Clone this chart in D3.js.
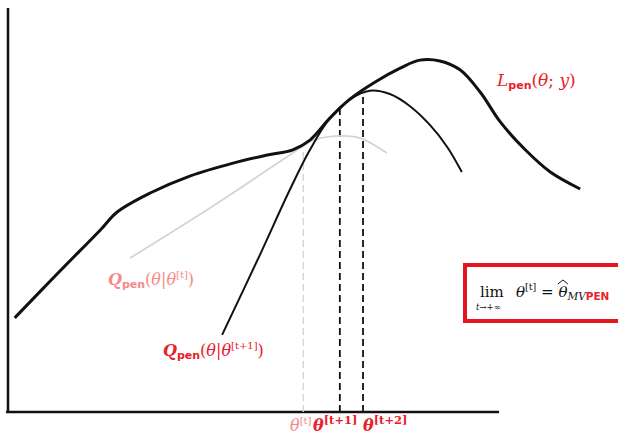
<!DOCTYPE html>
<html>
<head>
<meta charset="utf-8">
<script src="https://cdn.jsdelivr.net/npm/d3@7"></script>
<style>
  body { margin: 0; background: #fff; }
  svg { display: block; }
  text { font-family: "DejaVu Serif", "Liberation Serif", serif; }
</style>
</head>
<body>
<svg id="chart" width="618" height="434"></svg>
<script>
    const width = 618;
    const height = 434;

    // curve samples, theta on [0,100], value on [0,100]
    const likeTheta = [1.1, 8.2, 15.1, 17.9, 23.3, 29.8, 36.9, 42.5, 46.7, 49.5, 52.8, 56.1, 60.2, 64.3, 67.5, 70.8, 74.1, 77.4, 80.7, 84.8, 88.9, 93.8];
    const likeValue = [23.3, 34.4, 45.0, 49.5, 54.2, 58.4, 61.6, 63.6, 64.9, 67.3, 72.8, 77.5, 81.7, 85.1, 87.1, 86.9, 84.7, 79.2, 71.8, 64.9, 59.4, 55.2];

    const qtTheta = [20.0, 33.1, 46.2, 49.8, 53.6, 57.7, 62.1];
    const qtValue = [38.1, 50.5, 63.6, 67.1, 68.3, 67.8, 64.1];

    const qt1Theta = [35.1, 41.3, 46.2, 49.5, 52.8, 56.1, 59.3, 62.6, 65.9, 69.2, 72.0, 74.4];
    const qt1Value = [19.1, 38.9, 55.0, 64.9, 72.8, 77.4, 79.5, 78.7, 75.7, 71.0, 65.6, 59.4];

    // iterates theta[t], theta[t+1], theta[t+2]
    const iterTheta = [48.4, 54.4, 58.2];
    const iterTop = [64.9, 75.2, 79.2];
    const iterSup = ["[t]", "[t+1]", "[t+2]"];

    const red = "#e8202a";
    const pink = "#f58a8a";

    const svg = d3.select("#chart");

    const x = d3.scaleLinear().domain([0, 100]).range([8, 618]);
    const y = d3.scaleLinear().domain([0, 100]).range([412, 8]);

    const line = d3.line()
        .x(d => x(d[0]))
        .y(d => y(d[1]))
        .curve(d3.curveCatmullRom.alpha(0.5));

    // axes (plain lines, no ticks)
    svg.append("line")
        .attr("x1", x(0)).attr("x2", x(0))
        .attr("y1", y(100)).attr("y2", y(0) + 1)
        .attr("stroke", "#111").attr("stroke-width", 2.5);
    svg.append("line")
        .attr("x1", x(0) - 2).attr("x2", x(80.5))
        .attr("y1", y(0)).attr("y2", y(0))
        .attr("stroke", "#111").attr("stroke-width", 2.5);

    // dashed iterate lines
    svg.selectAll("line.iter")
        .data(iterTheta)
        .join("line")
        .attr("class", "iter")
        .attr("x1", d => x(d)).attr("x2", d => x(d))
        .attr("y1", y(0)).attr("y2", (d, i) => y(iterTop[i]))
        .attr("stroke", (d, i) => i == 0 ? "#d2d2d2" : "#111")
        .attr("stroke-width", (d, i) => i == 0 ? 1.3 : 1.8)
        .attr("stroke-dasharray", "7,4");

    // surrogate at theta[t]
    svg.append("path")
        .attr("d", line(d3.zip(qtTheta, qtValue)))
        .attr("fill", "none")
        .attr("stroke", "#d4d4d4")
        .attr("stroke-width", 1.8);

    // surrogate at theta[t+1]
    svg.append("path")
        .attr("d", line(d3.zip(qt1Theta, qt1Value)))
        .attr("fill", "none")
        .attr("stroke", "#111")
        .attr("stroke-width", 2);

    // penalised likelihood
    svg.append("path")
        .attr("d", line(d3.zip(likeTheta, likeValue)))
        .attr("fill", "none")
        .attr("stroke", "#111")
        .attr("stroke-width", 3);

    // helper for a math-ish label
    function qLabel(g, sup, color) {
        const t = g.append("text").attr("fill", color).attr("font-size", 16);
        t.append("tspan").text("Q").attr("font-weight", "bold").attr("font-style", "italic");
        t.append("tspan").text("pen").attr("font-family", "DejaVu Sans, sans-serif").attr("font-weight", "bold")
            .attr("font-size", 11).attr("dy", 3);
        t.append("tspan").text("(").attr("dy", -3);
        t.append("tspan").text("θ").attr("font-style", "italic");
        t.append("tspan").text("|");
        t.append("tspan").text("θ").attr("font-style", "italic");
        t.append("tspan").text(sup).attr("font-size", 10).attr("dy", -7);
        t.append("tspan").text(")").attr("dy", 7);
        return t;
    }

    qLabel(svg.append("g").attr("transform", "translate(108,285)"), "[t]", pink);
    qLabel(svg.append("g").attr("transform", "translate(163,356)"), "[t+1]", red);

    // likelihood label
    const lt = svg.append("text").attr("x", 497).attr("y", 86).attr("fill", red).attr("font-size", 17);
    lt.append("tspan").text("L").attr("font-style", "italic");
    lt.append("tspan").text("pen").attr("font-family", "DejaVu Sans, sans-serif").attr("font-weight", "bold")
        .attr("font-size", 11).attr("dy", 3);
    lt.append("tspan").text("(").attr("dy", -3);
    lt.append("tspan").text("θ").attr("font-style", "italic");
    lt.append("tspan").text("; ");
    lt.append("tspan").text("y").attr("font-style", "italic");
    lt.append("tspan").text(")");

    // iterate labels under the axis
    const labX = [290, 313, 363];
    iterSup.forEach((s, i) => {
        const t = svg.append("text")
            .attr("x", labX[i]).attr("y", 431)
            .attr("fill", i == 0 ? pink : red)
            .attr("font-size", 16)
            .attr("font-weight", i == 0 ? "normal" : "bold");
        t.append("tspan").text("θ").attr("font-style", "italic");
        t.append("tspan").text(s).attr("font-size", i == 0 ? 10 : 11.5).attr("dy", -7);
    });

    // limit box
    svg.append("rect")
        .attr("x", 465).attr("y", 265)
        .attr("width", 160).attr("height", 56)
        .attr("fill", "none")
        .attr("stroke", "#e3161e")
        .attr("stroke-width", 4);

    const bx = svg.append("g").attr("transform", "translate(478,297)");
    bx.append("text").attr("x", 2).attr("y", 0).attr("font-size", 15).attr("fill", "#111").text("lim");
    const sub = bx.append("text").attr("x", -2).attr("y", 13).attr("font-size", 8.5).attr("fill", "#111");
    sub.append("tspan").text("t").attr("font-style", "italic");
    sub.append("tspan").text("→+∞");
    const bt = bx.append("text").attr("x", 38).attr("y", 0).attr("font-size", 15).attr("fill", "#111");
    bt.append("tspan").text("θ").attr("font-style", "italic");
    bt.append("tspan").text("[t]").attr("font-size", 9.5).attr("dy", -7);
    bt.append("tspan").text(" = ").attr("dy", 7);
    const hatTheta = bt.append("tspan").text("θ").attr("font-style", "italic");
    bt.append("tspan").text("MV").attr("font-style", "italic").attr("font-size", 10.5).attr("dy", 3);
    bt.append("tspan").text("PEN").attr("font-family", "DejaVu Sans, sans-serif").attr("font-weight", "bold")
        .attr("font-size", 10.5).attr("fill", red);

    // hat over the estimator
    const nChars = "θ[t] = ".length;
    const ext = bt.node().getExtentOfChar(nChars);
    const hx = 38 + (ext.x - 38) + ext.width / 2;
    bx.append("path")
        .attr("d", `M${hx - 5},-13 L${hx},-17 L${hx + 5},-13`)
        .attr("fill", "none")
        .attr("stroke", "#111")
        .attr("stroke-width", 1);
</script>
</body>
</html>
